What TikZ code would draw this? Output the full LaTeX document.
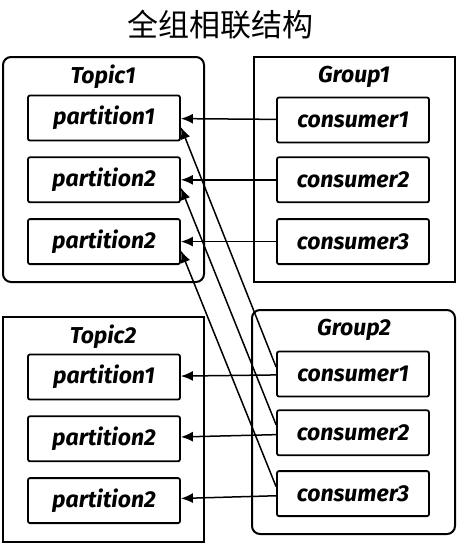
\documentclass[tikz,border=0pt]{standalone}
\usepackage{fontspec}
\setmainfont{Fira Sans}
\newfontfamily\cjk{Noto Sans CJK SC}
\usetikzlibrary{positioning}
\usetikzlibrary{arrows.meta}

\begin{document}
\begin{tikzpicture} [x=1pt, y=-1pt, line width=1.5pt, >={Latex[length=12pt,width=10pt]},
        frame/.style = {draw, line width=2pt, minimum width=201pt, minimum height=225pt},
        item/.style = {draw, line width=1.8pt, rounded corners=2pt, minimum width=152pt, minimum height=45pt, font=\fontsize{23}{26}\selectfont\bfseries\itshape},
        head/.style = {font=\fontsize{23}{26}\selectfont\bfseries\itshape}]
        \useasboundingbox (0,0) rectangle (456,544);
        %Titel
        \node (titel) at (220,25) {\cjk\fontsize{31}{34}\selectfont 全组相联结构};

        %Topic1
        \node[frame, rounded corners=8pt] (t1) at (103.5,169.5) {};
        \node[head] (t1name) at (103,77) {Topic1};
        \node[item] (t1p1) at (104,118) {partition1};
        \node[item] (t1p2) [below = 15pt of t1p1] {partition2};
        \node[item] (t1p3) [below = 15pt of t1p2] {partition2};

        %Group1
        \node[frame] (g1) at (354,169.5) {};
        \node[head] (g1name) at (354,77) {Group1};
        \node[item] (g1c1) at (353,120) {consumer1};
        \node[item] (g1c2) [below = 13pt of g1c1] {consumer2};
        \node[item] (g1c3) [below = 15pt of g1c2] {consumer3};

        %Topic2
        \node[frame] (t2) at (103.5,429) {};
        \node[head] (t2name) at (103,337) {Topic2};
        \node[item] (t2p1) at (104,377) {partition1};
        \node[item] (t2p2) [below = 15pt of t2p1] {partition2};
        \node[item] (t2p3) [below = 15pt of t2p2] {partition2};

        %Group2
        \node[frame, rounded corners=8pt, minimum width=203pt, minimum height=224pt] (g2) at (353.5,422) {};
        \node[head] (g2name) at (354,330) {Group2};
        \node[item] (g2c1) at (353,374) {consumer1};
        \node[item] (g2c2) [below = 12pt of g2c1] {consumer2};
        \node[item] (g2c3) [below = 14pt of g2c2] {consumer3};

        %Kanten
        \draw[->] (g1c1) -- (t1p1);
        \draw[->] (g1c2) -- (t1p2);
        \draw[->] (g1c3) -- (t1p3);
        \draw[->] (g2c1) -- (t2p1);
        \draw[->] (g2c2) -- (t2p2);
        \draw[->] (g2c3) -- (t2p3);
        \draw[->] ([yshift=7pt]g2c1.west) -- ([yshift=-9pt]t1p1.east);
        \draw[->] ([yshift=8pt]g2c2.west) -- ([yshift=-8pt]t1p2.east);
        \draw[->] ([yshift=7pt]g2c3.west) -- ([yshift=-9pt]t1p3.east);

    \end{tikzpicture}
\end{document}
